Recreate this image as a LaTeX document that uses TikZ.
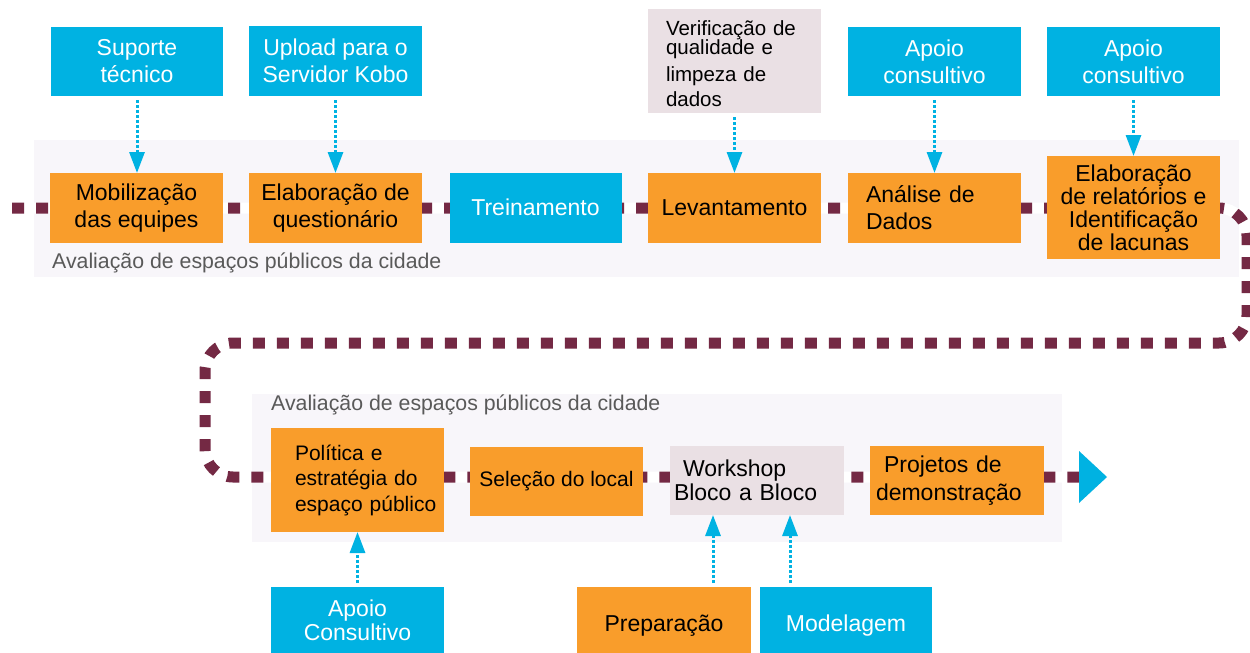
\documentclass[tikz,border=0pt]{standalone}
\usepackage{fontspec}
\setmainfont{Liberation Sans}
\usetikzlibrary{arrows.meta,calc}
\definecolor{orng}{HTML}{F99D2B}
\definecolor{blu}{HTML}{00B2E2}
\definecolor{pnk}{HTML}{EAE0E4}
\definecolor{bandc}{HTML}{F8F6FA}
\definecolor{maroon}{HTML}{742944}
\definecolor{graytxt}{HTML}{595959}
\tikzset{
  box/.style={rectangle, inner sep=0pt, outer sep=0pt, align=center,
    font=\fontsize{23}{27}\selectfont},
  ob/.style={box, fill=orng, text=black},
  bb/.style={box, fill=blu, text=white},
  pb/.style={box, fill=pnk, text=black},
  sz/.style 2 args={minimum width=#1pt, minimum height=#2pt},
  lefttext/.style 2 args={align=left, text width=#1pt-2*#2pt, inner xsep=#2pt},
  conn/.style={draw=blu, line width=3pt, dash pattern=on 3pt off 2pt,
    -{Triangle[width=15pt,length=21pt]}},
  flow/.style={draw=maroon, line width=11pt, dash pattern=on 12pt off 12pt,
    rounded corners=28pt},
  flowbg/.style={draw=white, line width=11pt, rounded corners=28pt},
  lab/.style={text=graytxt, font=\fontsize{21.3}{25}\selectfont, inner sep=0pt}
}
\begin{document}
\begin{tikzpicture}[x=1pt,y=-1pt]
\useasboundingbox (0,0) rectangle (1250,653);
\fill[white] (0,0) rectangle (1250,653);
% bands
\fill[bandc] (34,140) rectangle (1239,277);
\fill[bandc] (252,394) rectangle (1062,542);
\node[lab, anchor=base west] (l1) at (52,268) {Avaliação de espaços públicos da cidade};
\node[lab, anchor=base west] (l2) at (271,410) {Avaliação de espaços públicos da cidade};
% flow line
\coordinate (fstart) at (12,208);
\coordinate (fend) at (1079,477);
\draw[flowbg] (fstart) -- (1247,208) -- (1247,343) -- (205,343) -- (205,477) -- (fend);
\draw[flow] (fstart) -- (1247,208) -- (1247,343) -- (205,343) -- (205,477) -- (fend);
\fill[blu] (fend) -- ++(0,-26) -- ++(28,26) -- ++(-28,26) -- cycle;
% top support boxes
\node[bb, sz={172}{69}] (sup) at (137,61.5) {Suporte\\técnico};
\node[bb, sz={173}{70}] (upl) at (335.5,61) {Upload para o\\Servidor Kobo};
\node[pb, sz={173}{104}, lefttext={173}{18}, font=\fontsize{20.5}{24}\selectfont] (ver) at (734.5,61)
  {\rule{0pt}{21pt}Verificação de\\[-5pt]qualidade e\\[3pt]limpeza de\\[1pt]dados};
\node[bb, sz={173}{69}] (ap1) at (934.5,61.5) {Apoio\\consultivo};
\node[bb, sz={173}{69}] (ap2) at (1133.5,61.5) {Apoio\\consultivo};
% main row
\node[ob, sz={173}{70}] (mob) at (136.5,208) {Mobilização\\das equipes};
\node[ob, sz={173}{70}] (elq) at (335.5,208) {Elaboração de\\questionário};
\node[bb, sz={172}{70}] (tre) at (535.5,207.5) {Treinamento};
\node[ob, sz={173}{70}] (lev) at (734.5,208) {Levantamento};
\node[ob, sz={173}{70}, lefttext={173}{18}] (ana) at (934.5,208) {Análise de\\Dados};
\node[ob, sz={173}{103}, font=\fontsize{23}{23}\selectfont] (rel) at (1133.5,207.5)
  {Elaboração\\de relatórios e\\Identificação\\de lacunas};
% bottom row
\node[ob, sz={173}{104}, lefttext={173}{5}, font=\fontsize{21}{25.5}\selectfont] (pol) at (357.5,480)
  {\hspace*{19pt}Política e\\\hspace*{19pt}estratégia do\\\hspace*{19pt}espaço público};
\node[ob, sz={173}{69}, font=\fontsize{21}{25}\selectfont] (sel) at (556.5,481) {Seleção do local};
\node[pb, sz={174}{69}, lefttext={174}{4}, font=\fontsize{23}{24}\selectfont] (wor) at (757,480.5)
  {\hspace*{9pt}Workshop\\Bloco a Bloco};
\node[ob, sz={174}{69}, lefttext={174}{6}, font=\fontsize{23}{28}\selectfont] (pro) at (957,480.5)
  {\hspace*{8pt}Projetos de\\demonstração};
\node[bb, sz={173}{66}, font=\fontsize{23}{24}\selectfont] (apc) at (357.5,620) {Apoio\\Consultivo};
\node[ob, sz={174}{78}] (pre) at (664,626) {Preparação};
\node[bb, sz={172}{78}] (mod) at (846,626) {Modelagem};
% connectors
\draw[conn] ([yshift=-4pt]sup.south) -- (sup.south |- mob.north);
\draw[conn] ([yshift=-4pt]upl.south) -- (upl.south |- elq.north);
\draw[conn] ([yshift=-4pt]ver.south) -- (ver.south |- lev.north);
\draw[conn] ([yshift=-4pt]ap1.south) -- (ap1.south |- ana.north);
\draw[conn] ([yshift=-4pt]ap2.south) -- (ap2.south |- rel.north);
\draw[conn] ([yshift=4pt]apc.north) -- (apc.north |- pol.south);
\coordinate (p1) at ([xshift=49pt,yshift=4pt]pre.north);
\coordinate (m1) at ([xshift=-56pt,yshift=4pt]mod.north);
\draw[conn] (p1) -- (p1 |- wor.south);
\draw[conn] (m1) -- (m1 |- wor.south);
\end{tikzpicture}
\end{document}
